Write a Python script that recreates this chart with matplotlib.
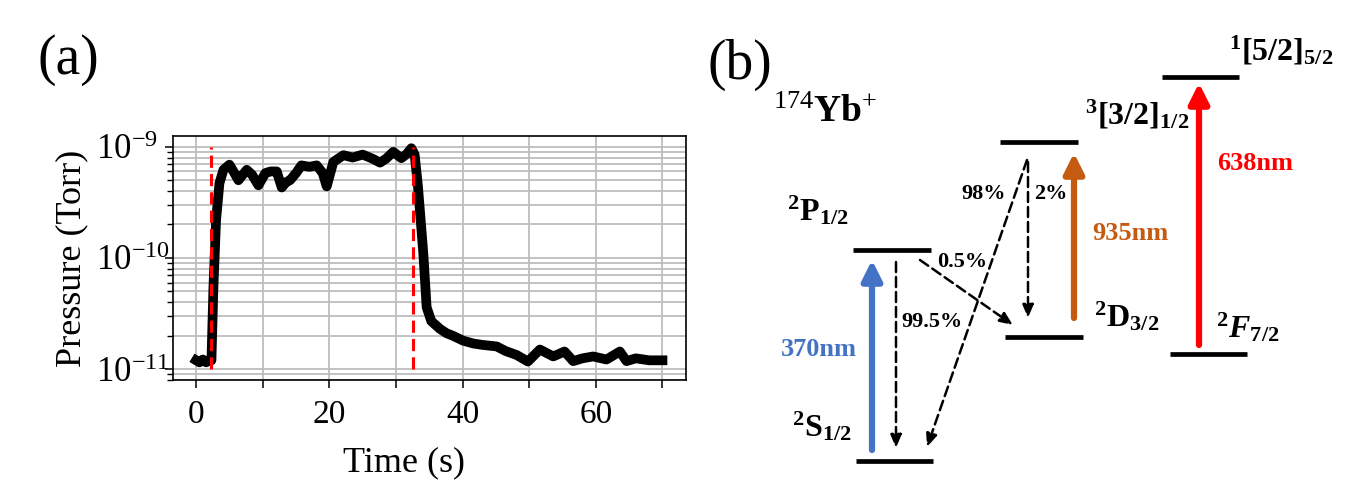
import matplotlib.pyplot as plt
from matplotlib.ticker import FixedLocator, FuncFormatter, LogLocator
import numpy as np

plt.rcParams['font.family'] = ['Liberation Serif', 'DejaVu Serif']
plt.rcParams['mathtext.fontset'] = 'custom'
plt.rcParams['mathtext.rm'] = 'Liberation Serif'
plt.rcParams['mathtext.bf'] = 'Liberation Serif:bold'
plt.rcParams['mathtext.it'] = 'Liberation Serif:italic'
plt.rcParams['mathtext.bfit'] = 'Liberation Serif:italic:bold'

# ---- panel (a): pressure trace ----
time_s = [0, 0.5, 1.0, 1.5, 2.0, 2.3, 2.6, 3.0, 3.5, 4.1, 5.0, 5.6, 6.35, 7.0, 7.6,
          8.4, 9.35, 10.4, 11.2, 12.1, 12.85, 13.5, 14.1, 15.0, 15.8, 17.0, 18.1,
          19.0, 19.6, 20.6, 22.1, 23.5, 25.0, 26.5, 27.6, 28.5, 29.6, 30.8, 31.6,
          32.3, 32.8, 33.3, 34.1, 34.6, 35.3, 36.6, 37.6, 38.5, 40.1, 41.6, 43.0,
          45.1, 46.5, 48.1, 49.8, 51.6, 53.6, 55.3, 56.6, 58.0, 59.6, 61.6, 63.6,
          64.6, 66.0, 68.0, 70.0]
pressure = [1.2e-11, 1.15e-11, 1.22e-11, 1.15e-11, 1.2e-11, 1.2e-11, 5.5e-11,
            2.2e-10, 4.7e-10, 6.2e-10, 6.9e-10, 6.0e-10, 5.0e-10, 5.6e-10, 6.2e-10,
            5.6e-10, 4.5e-10, 5.8e-10, 6.0e-10, 6.0e-10, 4.3e-10, 4.8e-10, 5.0e-10,
            5.8e-10, 6.8e-10, 6.6e-10, 6.8e-10, 5.8e-10, 4.4e-10, 7.3e-10, 8.4e-10,
            8.0e-10, 8.5e-10, 7.8e-10, 7.2e-10, 7.8e-10, 9.0e-10, 7.9e-10, 8.6e-10,
            9.7e-10, 8.5e-10, 4.4e-10, 1.1e-10, 3.6e-11, 2.7e-11, 2.3e-11, 2.1e-11,
            2.0e-11, 1.8e-11, 1.7e-11, 1.65e-11, 1.6e-11, 1.45e-11, 1.34e-11,
            1.17e-11, 1.5e-11, 1.3e-11, 1.44e-11, 1.18e-11, 1.25e-11, 1.3e-11,
            1.22e-11, 1.44e-11, 1.18e-11, 1.25e-11, 1.2e-11, 1.2e-11]
valve_times = [2.3, 32.5]
x_ticks = [0, 10, 20, 30, 40, 50, 60, 70]
y_ticks = [1e-11, 1e-10, 1e-9]

# ---- panel (b): level scheme ----
level_x0 = [856, 853, 1005, 1000, 1170, 1162]
level_x1 = [933, 931, 1083, 1078, 1247, 1239]
level_y = [461, 250, 337, 142, 354, 77]

laser_labels = ['370nm', '935nm', '638nm']
laser_colors = ['#4472C4', '#C55A11', '#FF0000']
laser_x = [872, 1074, 1199]
laser_from = [450, 318, 345]
laser_to = [260, 153, 83]
laser_text_xy = [(819, 350), (1130, 233), (1255, 163)]

decay_labels = ['99.5%', '0.5%', '98%', '2%']
decay_from = [(896, 262), (920, 260), (1027, 160), (1028, 162)]
decay_to = [(896, 448), (1013, 325), (927, 447), (1028, 318)]
decay_text_xy = [(932, 322), (962, 262), (984, 194), (1051, 194)]

state_labels = [r'$^{\mathbf{2}}\mathbf{S}_{\mathbf{1/2}}$',
                r'$^{\mathbf{2}}\mathbf{P}_{\mathbf{1/2}}$',
                r'$^{\mathbf{2}}\mathbf{D}_{\mathbf{3/2}}$',
                r'$^{\mathbf{3}}\mathbf{[3/2]}_{\mathbf{1/2}}$',
                r'$^{\mathbf{2}}\mathbfit{F}_{\mathbf{7/2}}$',
                r'$^{\mathbf{1}}\mathbf{[5/2]}_{\mathbf{5/2}}$']
state_text_xy = [(822, 427), (818, 211), (1127, 317), (1137, 115), (1248, 328), (1281, 51)]

fig = plt.figure(figsize=(13.5, 4.99), dpi=100)

ax = fig.add_axes([0.128, 0.2375, 0.38, 0.49])
ax.set_yscale('log')
ax.plot(time_s, pressure, color='black', lw=7, solid_joinstyle='round', zorder=3)
for tv in valve_times:
    ax.plot([tv, tv], [1e-11, 1e-9], color='#FF0000', lw=2.2, ls=(0, (4, 2)), zorder=4)
ax.set_xlim(-3.5, 73.5)
ax.set_ylim(7.9e-12, 1.25e-9)
ax.xaxis.set_major_locator(FixedLocator(x_ticks))
ax.xaxis.set_major_formatter(FuncFormatter(lambda v, p: f'{v:.0f}' if v % 20 == 0 else ''))
ax.yaxis.set_major_locator(FixedLocator(y_ticks))
ax.yaxis.set_minor_locator(LogLocator(base=10, subs=np.arange(2, 10), numticks=20))
ax.yaxis.set_major_formatter(FuncFormatter(lambda v, p: r'$\mathrm{10^{%d}}$' % round(np.log10(v))))
ax.yaxis.set_minor_formatter(FuncFormatter(lambda v, p: ''))
ax.grid(True, which='both', color='#bdbdbd', lw=1.3)
ax.tick_params(axis='both', which='major', direction='out', length=6, width=1.1, labelsize=25)
ax.tick_params(axis='x', pad=8, labelsize=24)
ax.tick_params(axis='y', which='minor', direction='out', length=4, width=1.0)
# tick labels are left-aligned in the original
ax.tick_params(axis='y', which='major', pad=49)
for lbl in ax.get_yticklabels():
    lbl.set_horizontalalignment('left')
for s in ax.spines.values():
    s.set_linewidth(1.2)
ax.set_xlabel('Time (s)', fontsize=26)
ax.xaxis.set_label_coords(0.45, -0.27)
ax.set_ylabel('Pressure (Torr)', fontsize=26)
ax.yaxis.set_label_coords(-0.165, 0.5)
fig.text(68 / 1350, 1 - 60 / 499, '(a)', fontsize=40, ha='center', va='center')

# level diagram drawn in pixel units of the figure
bx = fig.add_axes([0.52, 0, 0.48, 1])
bx.set_xlim(702, 1350)
bx.set_ylim(499, 0)
bx.axis('off')

for x0, x1, y in zip(level_x0, level_x1, level_y):
    bx.plot([x0, x1], [y, y], color='black', lw=3.4, solid_capstyle='butt')

for lab, col, x, y0, y1, (tx, ty) in zip(laser_labels, laser_colors, laser_x,
                                         laser_from, laser_to, laser_text_xy):
    bx.annotate('', xy=(x, y1), xytext=(x, y0),
                arrowprops=dict(arrowstyle='-|>,head_length=0.6,head_width=0.3',
                                mutation_scale=20, color=col, lw=4.5,
                                shrinkA=0, shrinkB=0))
    bx.text(tx, ty, lab, color=col, fontsize=19, fontweight='bold',
            ha='center', va='center')

for lab, p0, p1, (tx, ty) in zip(decay_labels, decay_from, decay_to, decay_text_xy):
    bx.annotate('', xy=p1, xytext=p0,
                arrowprops=dict(arrowstyle='-|>,head_length=0.6,head_width=0.25',
                                mutation_scale=13, color='black', lw=1.8,
                                linestyle=(0, (4, 2)), shrinkA=0, shrinkB=0))
    bx.text(tx, ty, lab, fontsize=16, fontweight='bold', ha='center', va='center')

for lab, (tx, ty) in zip(state_labels, state_text_xy):
    bx.text(tx, ty, lab, fontsize=23, ha='center', va='center')

bx.text(773, 122, r'$^{\mathrm{174}}\mathbf{Yb}^{+}$', fontsize=27, ha='left', va='baseline')
fig.text(740 / 1350, 1 - 65 / 499, '(b)', fontsize=40, ha='center', va='center')

fig.savefig('out.png', dpi=100)
